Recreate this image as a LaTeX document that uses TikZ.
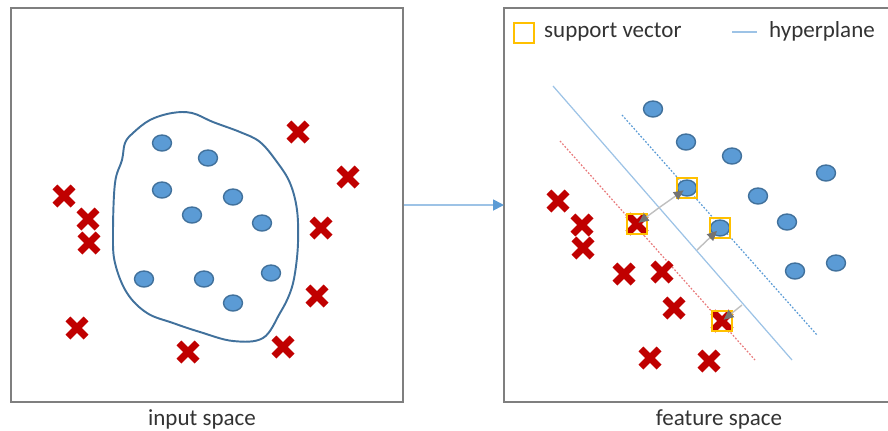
\documentclass[tikz,border=0pt]{standalone}
\usepackage{fontspec}
\setmainfont{Carlito}
\usetikzlibrary{shapes.geometric,shapes.misc,arrows.meta}

\definecolor{dotblue}{HTML}{5B9BD5}
\definecolor{dotedge}{HTML}{41719C}
\definecolor{xred}{HTML}{C00000}
\definecolor{svyellow}{HTML}{FFC000}
\definecolor{planeblue}{HTML}{9DC3E6}
\definecolor{boxgray}{HTML}{7F7F7F}
\definecolor{margred}{HTML}{E8797B}

\tikzset{
  bluedot/.style={ellipse, fill=dotblue, draw=dotedge, line width=0.8pt,
    minimum width=0.38cm, minimum height=0.32cm, inner sep=0pt},
  redx/.style={cross out, draw=xred, line width=4pt,
    minimum size=0.22cm, inner sep=0pt},
  svbox/.style={draw=svyellow, line width=1.3pt, minimum size=0.4cm, inner sep=0pt},
  panel/.style={draw=boxgray, line width=1.2pt, minimum width=7.84cm,
    minimum height=7.88cm, inner sep=0pt},
  lbl/.style={font=\fontsize{13.1}{16}\selectfont, text=black!80, anchor=base},
  plane/.style={draw=planeblue, line width=0.7pt},
  gap/.style={draw=black!25, line width=0.8pt,
    -{Triangle[length=0.2cm, width=0.18cm, color=black!55]}},
}

\begin{document}
\begin{tikzpicture}[x=0.02cm, y=-0.02cm]
  \useasboundingbox (0,0) rectangle (888,430);

  % input space
  \node[panel] (inbox) at (207,205) {};
  \draw[draw=dotedge, line width=1.1pt] plot[smooth cycle, tension=0.6] coordinates {
    (172,113) (192,113) (213,122) (240,132) (260,142) (277,162) (290,183)
    (297,210) (298,243) (295,273) (290,293) (280,313) (263,338) (233,341)
    (200,332) (173,323) (147,313) (127,293) (115,263) (113,233) (115,183)
    (122,160) (125,143) (133,133) (150,120)};

  \node[bluedot] (a1) at (162,143) {};
  \node[bluedot] (a2) at (208,158) {};
  \node[bluedot] (a3) at (162,190) {};
  \node[bluedot] (a4) at (233,197) {};
  \node[bluedot] (a5) at (192,215) {};
  \node[bluedot] (a6) at (262,223) {};
  \node[bluedot] (a7) at (144,279) {};
  \node[bluedot] (a8) at (204,279) {};
  \node[bluedot] (a9) at (271,273) {};
  \node[bluedot] (a10) at (233,303) {};

  \node[redx] (x1) at (298,132) {};
  \node[redx] (x2) at (348,177) {};
  \node[redx] (x3) at (64,196) {};
  \node[redx] (x4) at (88,219) {};
  \node[redx] (x5) at (89,243) {};
  \node[redx] (x6) at (321,228) {};
  \node[redx] (x7) at (317,296) {};
  \node[redx] (x8) at (77,328) {};
  \node[redx] (x9) at (188,352) {};
  \node[redx] (x10) at (283,347) {};

  \node[lbl] (inlbl) at (202,425) {input space};

  % feature space
  \draw[draw=boxgray, line width=1.2pt] (888,8) -| (504,402) -- (888,402);
  \coordinate (fwest) at (504,205);
  \draw[draw=planeblue, line width=1pt,
    -{Triangle[length=0.22cm, width=0.22cm, color=dotblue]}] (inbox.east) -- (fwest);

  \coordinate (h1) at (553,86);   \coordinate (h2) at (792,360);
  \coordinate (u1) at (622,115);  \coordinate (u2) at (817,335);
  \coordinate (d1) at (560,141);  \coordinate (d2) at (755,360);
  \draw[plane] (h1) -- (h2);
  \draw[draw=dotblue, line width=0.7pt, dash pattern=on 1pt off 1pt] (u1) -- (u2);
  \draw[draw=margred, line width=0.7pt, dash pattern=on 1pt off 1pt] (d1) -- (d2);

  \node[bluedot] (b1) at (653,109) {};
  \node[bluedot] (b2) at (686,142) {};
  \node[bluedot] (b3) at (732,156) {};
  \node[bluedot] (b4) at (826,173) {};
  \node[bluedot] (b5) at (758,196) {};
  \node[bluedot] (b6) at (787,222) {};
  \node[bluedot] (b7) at (795,271) {};
  \node[bluedot] (b8) at (836,263) {};

  \node[redx] (y1) at (558,201) {};
  \node[redx] (y2) at (582,225) {};
  \node[redx] (y3) at (583,248) {};
  \node[redx] (y4) at (624,274) {};
  \node[redx] (y5) at (662,272) {};
  \node[redx] (y6) at (674,308) {};
  \node[redx] (y7) at (650,358) {};
  \node[redx] (y8) at (709,361) {};

  % support vectors
  \node[bluedot] (s1) at (687,188) {};
  \node[redx] (s2) at (637,224) {};
  \node[bluedot] (s3) at (720,228) {};
  \node[redx] (s4) at (722,321) {};
  \node[svbox] (k1) at (s1) {};
  \node[svbox] (k2) at (s2) {};
  \node[svbox] (k3) at (s3) {};
  \node[svbox] (k4) at (s4) {};

  \coordinate (m1) at (660,207);
  \coordinate (m2) at (697,250);
  \coordinate (m3) at (742,305);
  \draw[gap, shorten >=0.08cm] (m1) -- (s1.center);
  \draw[gap, shorten >=0.04cm] (m1) -- (s2.center);
  \draw[gap, shorten >=0.08cm] (m2) -- (s3.center);
  \draw[gap, shorten >=0.04cm] (m3) -- (s4.center);

  % legend
  \node[svbox] (keybox) at (524,33) {};
  \node[lbl, anchor=base west] (keysv) at (538,37) {support vector};
  \coordinate (l1) at (732,32);
  \coordinate (l2) at (757,32);
  \draw[plane] (l1) -- (l2);
  \node[lbl, anchor=base west] (keyhp) at (763,37) {hyperplane};

  \node[lbl] (ftlbl) at (719,425) {feature space};
\end{tikzpicture}
\end{document}
